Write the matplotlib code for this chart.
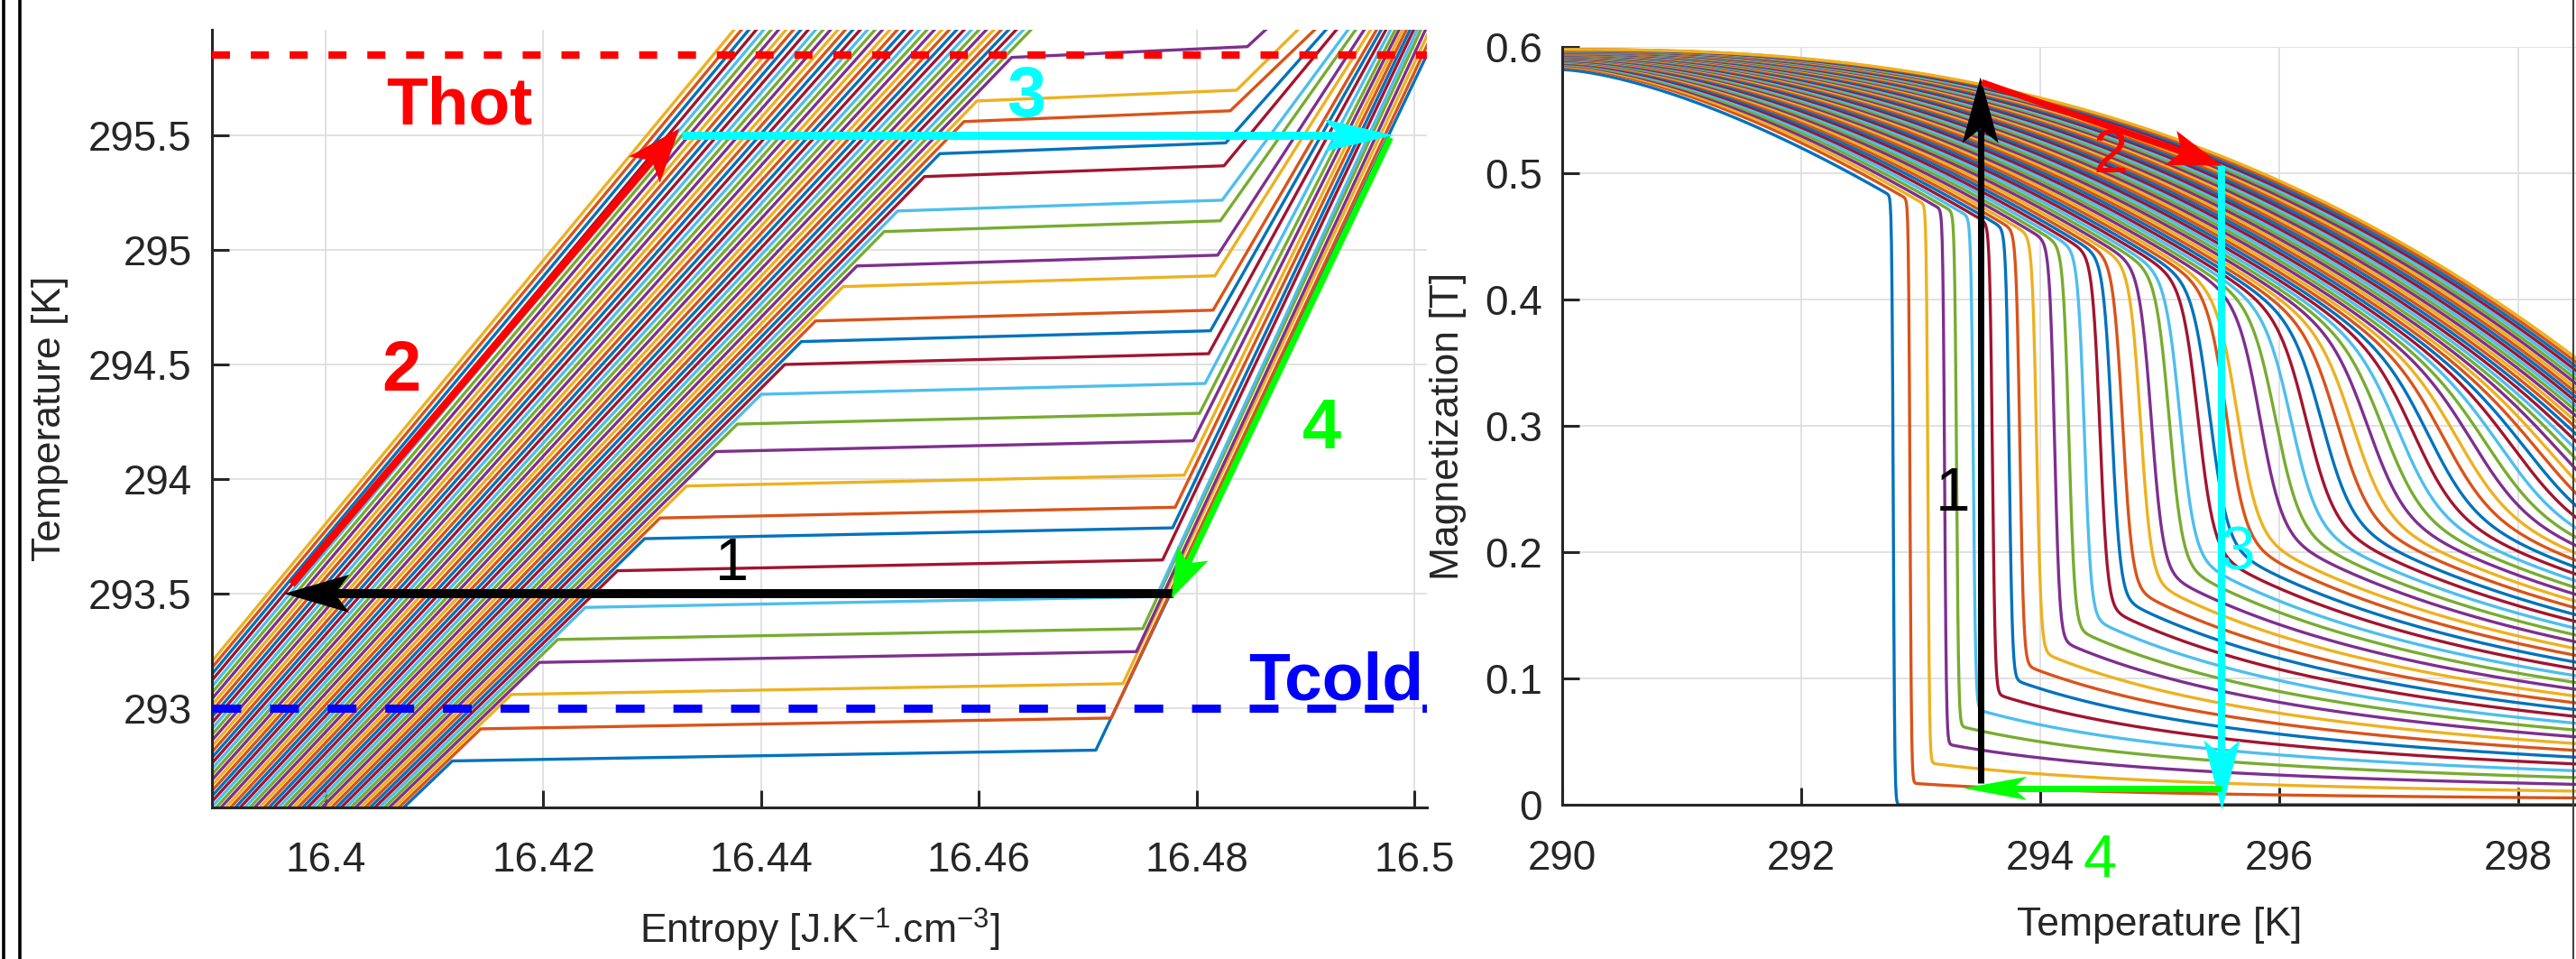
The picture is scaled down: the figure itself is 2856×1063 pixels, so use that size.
import numpy as np
import matplotlib
matplotlib.use('Agg')
import matplotlib.pyplot as plt
from matplotlib.lines import Line2D
from matplotlib.patches import Polygon
from matplotlib.transforms import IdentityTransform

plt.rcParams['font.family'] = ['Liberation Sans', 'DejaVu Sans']
plt.rcParams['mathtext.fontset'] = 'custom'
plt.rcParams['mathtext.rm'] = 'Liberation Sans'
plt.rcParams['mathtext.default'] = 'regular'
plt.rcParams['lines.scale_dashes'] = False
plt.rcParams['axes.linewidth'] = 2.2
plt.rcParams['axes.edgecolor'] = '#262626'
for a in ('xtick', 'ytick'):
    plt.rcParams[a + '.direction'] = 'in'
    plt.rcParams[a + '.major.size'] = 14
    plt.rcParams[a + '.major.width'] = 2.2
    plt.rcParams[a + '.color'] = '#262626'
    plt.rcParams[a + '.labelsize'] = 33
    plt.rcParams[a + '.labelcolor'] = '#262626'
plt.rcParams['xtick.major.pad'] = 27
plt.rcParams['ytick.major.pad'] = 16

# ---------------- data ----------------
n_curves = 66
line_colors = ['#0072BD', '#D95319', '#EDB120', '#7E2F8E', '#77AC30', '#4DBEEE', '#A2142F']

# left panel (T-s): plateau temperature of each visible transition
plateau_T = [292.77, 292.91, 293.06, 293.20, 293.30, 293.44, 293.60, 293.74, 293.83,
             293.97, 294.12, 294.24, 294.37, 294.50, 294.60, 294.69, 294.84, 294.93,
             295.08, 295.17, 295.32, 295.42, 295.56, 295.65, 295.84]
plateau_rise = 0.047
corner_right_s = [16.47075, 16.47216, 16.47324, 16.47448, 16.47506, 16.47630, 16.47688,
                  16.47780, 16.47804, 16.47887, 16.47970, 16.48028, 16.48078, 16.48111,
                  16.48128, 16.48152, 16.48169, 16.48194, 16.48219, 16.48235, 16.48252,
                  16.48268, 16.48310, 16.48368, 16.48467]
top_right_s = [16.50265, 16.50224, 16.50182, 16.50141, 16.50099, 16.50066, 16.50033,
               16.50000, 16.49967, 16.49934, 16.49901, 16.49867, 16.49826, 16.49785,
               16.49743, 16.49702, 16.49652, 16.49594, 16.49520, 16.49453, 16.49354,
               16.49263, 16.49172, 16.49014, 16.48724]
T_foot, T_top = 292.5, 296.0
foot_s = (16.4057, 16.3773)          # left branch entropy at T_foot, first / last curve
foot_slope = (0.0220, 0.0174)        # dS/dT of left branch, first / last curve
T_hot, T_cold = 295.85, 293.0

# right panel (M-T)
trans_step = 0.13
m_start = (0.582, 0.598)             # M at 290 K, first / last curve
shape_p = (1.5, 2.46)
shape_b = (0.0219, 0.001267)
edge_T, edge_step = 298.45, 0.0054   # M at right edge grows by this per curve
tail_tau = (2.5, 0.05)
jump_w = (0.012, 0.0003, 1.0)

# cycle arrows
left_arrows = [((16.4779, 293.5), (16.3962, 293.5), 'black', 10, 72, 42),
               ((16.3969, 293.54), (16.4325, 295.53), '#FF0000', 8, 60, 45),
               ((16.4327, 295.5), (16.4981, 295.5), '#00FFFF', 9, 77, 36),
               ((16.4978, 295.49), (16.4777, 293.48), '#00FF00', 7, 55, 38)]
right_arrows = [((293.5, 0.017), (293.5, 0.576), 'black', 7, 73, 40),
                ((293.51, 0.572), (295.52, 0.506), '#FF0000', 7, 60, 40),
                ((295.52, 0.506), (295.52, -0.004), '#00FFFF', 8, 77, 40),
                ((295.52, 0.013), (293.36, 0.013), '#00FF00', 7, 70, 26)]

fig = plt.figure(figsize=(28.56, 10.63), dpi=100)
axL = fig.add_axes([235 / 2856, 168 / 1063, 1347 / 2856, 862 / 1063])
axR = fig.add_axes([1732 / 2856, 171 / 1063, 1325 / 2856, 840 / 1063])

for ax in (axL, axR):
    ax.spines['top'].set_visible(False)
    ax.spines['right'].set_visible(False)
    ax.grid(True, color='#dedede', lw=1.3, zorder=0)
    ax.set_axisbelow(True)

# ---------------- left panel ----------------
for k in range(n_curves):
    f = k / (n_curves - 1)
    s0 = foot_s[0] + f * (foot_s[1] - foot_s[0])
    a = foot_slope[0] + f * (foot_slope[1] - foot_slope[0])
    if k < len(plateau_T):
        Tk = plateau_T[k]
        xs = [s0, s0 + a * (Tk - T_foot), corner_right_s[k], top_right_s[k]]
        ys = [T_foot, Tk, Tk + plateau_rise, T_top]
    else:
        xs = [s0, s0 + a * (T_top - T_foot)]
        ys = [T_foot, T_top]
    axL.plot(xs, ys, color=line_colors[k % 7], lw=2.4, zorder=2)

hot = axL.axhline(T_hot, color='#FF0000', lw=6, zorder=3)
hot.set_dashes([14.4, 16.6])
cold = axL.axhline(T_cold, color='#0000FF', lw=6.5, zorder=3)
cold.set_dashes([23, 23])

axL.set_xlim(16.38956, 16.50116)
axL.set_ylim(292.567, 295.9606)
axL.set_xticks([16.4, 16.42, 16.44, 16.46, 16.48, 16.5])
axL.set_xticklabels(['16.4', '16.42', '16.44', '16.46', '16.48', '16.5'])
axL.set_yticks([293, 293.5, 294, 294.5, 295, 295.5])
axL.set_yticklabels(['293', '293.5', '294', '294.5', '295', '295.5'])
axL.set_xlabel('Entropy [J.K$^{-1}$.cm$^{-3}$]', fontsize=32, color='#262626')
axL.set_ylabel('Temperature [K]', fontsize=32, color='#262626')
axL.xaxis.set_label_coords(0.5, -0.128)
axL.yaxis.set_label_coords(-0.118, 0.5)

axL.text(16.4056, 295.551, 'Thot', color='#FF0000', fontsize=54, fontweight='bold', ha='left', va='baseline')
axL.text(16.4848, 293.039, 'Tcold', color='#0000FF', fontsize=54, fontweight='bold', ha='left', va='baseline')
axL.text(16.40696, 294.468, '2', color='#FF0000', fontsize=56, fontweight='bold', ha='center', va='center')
axL.text(16.46437, 295.665, '3', color='#00FFFF', fontsize=56, fontweight='bold', ha='center', va='center')
axL.text(16.49147, 294.213, '4', color='#00FF00', fontsize=56, fontweight='bold', ha='center', va='center')
axL.text(16.43728, 293.626, '1', color='black', fontsize=48, ha='center', va='center')

# ---------------- right panel ----------------
T = np.linspace(290, 300, 2001)
trans_T = plateau_T + [plateau_T[-1] + trans_step * j for j in range(1, n_curves - len(plateau_T) + 1)]
for k in range(n_curves):
    f = k / (n_curves - 1)
    Tt = trans_T[k]
    m0 = m_start[0] + (m_start[1] - m_start[0]) * np.sqrt(f)
    p = shape_p[0] + f * (shape_p[1] - shape_p[0])
    b = np.exp(np.log(shape_b[0]) + f * (np.log(shape_b[1]) - np.log(shape_b[0])))
    upper = m0 - b * (T - 290) ** p
    upper_t = m0 - b * (Tt - 290) ** p
    tau = tail_tau[0] + tail_tau[1] * k
    m_end = edge_step * k
    m_bot = min(max(m_end * (tau + edge_T - Tt) / tau, 0.0), upper_t)
    lower = m_bot * tau / np.maximum(tau + T - Tt, 0.3 * tau)
    w = min(jump_w[0] + jump_w[1] * k ** 2, jump_w[2])
    S = 0.5 * (1 - np.tanh((T - Tt) / w))
    M = np.clip(lower + (upper - lower) * S, 0, None)
    axR.plot(T, M, color=line_colors[k % 7], lw=2.4, zorder=2)

axR.set_xlim(290, 300)
axR.set_ylim(0, 0.6)
axR.set_xticks([290, 292, 294, 296, 298])
axR.set_xticklabels(['290', '292', '294', '296', '298'])
axR.set_yticks([0, 0.1, 0.2, 0.3, 0.4, 0.5, 0.6])
axR.set_yticklabels(['0', '0.1', '0.2', '0.3', '0.4', '0.5', '0.6'])
axR.set_xlabel('Temperature [K]', fontsize=32, color='#262626')
axR.set_ylabel('Magnetization [T]', fontsize=32, color='#262626')
axR.xaxis.set_label_coords(0.5, -0.134)
axR.yaxis.set_label_coords(-0.080, 0.5)

axR.text(293.27, 0.2457, '1', color='black', fontsize=50, ha='center', va='center')
axR.text(294.59, 0.5136, '2', color='#FF0000', fontsize=50, ha='center', va='center')
axR.text(295.65, 0.1986, '3', color='#00FFFF', fontsize=50, ha='center', va='center')
axR.text(294.5, -0.045, '4', color='#00FF00', fontsize=48, ha='center', va='center', clip_on=False)


def draw_arrow(ax, start, end, color, width, head_len, head_w):
    p0 = ax.transData.transform(start)
    p1 = ax.transData.transform(end)
    d = p1 - p0
    u = d / np.hypot(d[0], d[1])
    n = np.array([-u[1], u[0]])
    notch = p1 - u * head_len * 0.78
    wing1 = p1 - u * head_len + n * head_w / 2
    wing2 = p1 - u * head_len - n * head_w / 2
    fig.add_artist(Line2D([p0[0], notch[0]], [p0[1], notch[1]], transform=IdentityTransform(),
                          color=color, lw=width * 0.72, solid_capstyle='butt', zorder=5))
    fig.add_artist(Polygon([p1, wing1, notch, wing2], closed=True, transform=IdentityTransform(),
                           facecolor=color, edgecolor='none', zorder=5))


for st, en, c, wd, hl, hw in left_arrows:
    draw_arrow(axL, st, en, c, wd, hl, hw)
for st, en, c, wd, hl, hw in right_arrows:
    draw_arrow(axR, st, en, c, wd, hl, hw)

# page frame lines at the edges
for x, c, lw in ((3.5 / 2856, 'black', 2.6), (21.7 / 2856, 'black', 2.6), (2853 / 2856, '#444444', 1.5)):
    fig.add_artist(Line2D([x, x], [0, 1], transform=fig.transFigure, color=c, lw=lw))

fig.savefig('out.png', dpi=100)
